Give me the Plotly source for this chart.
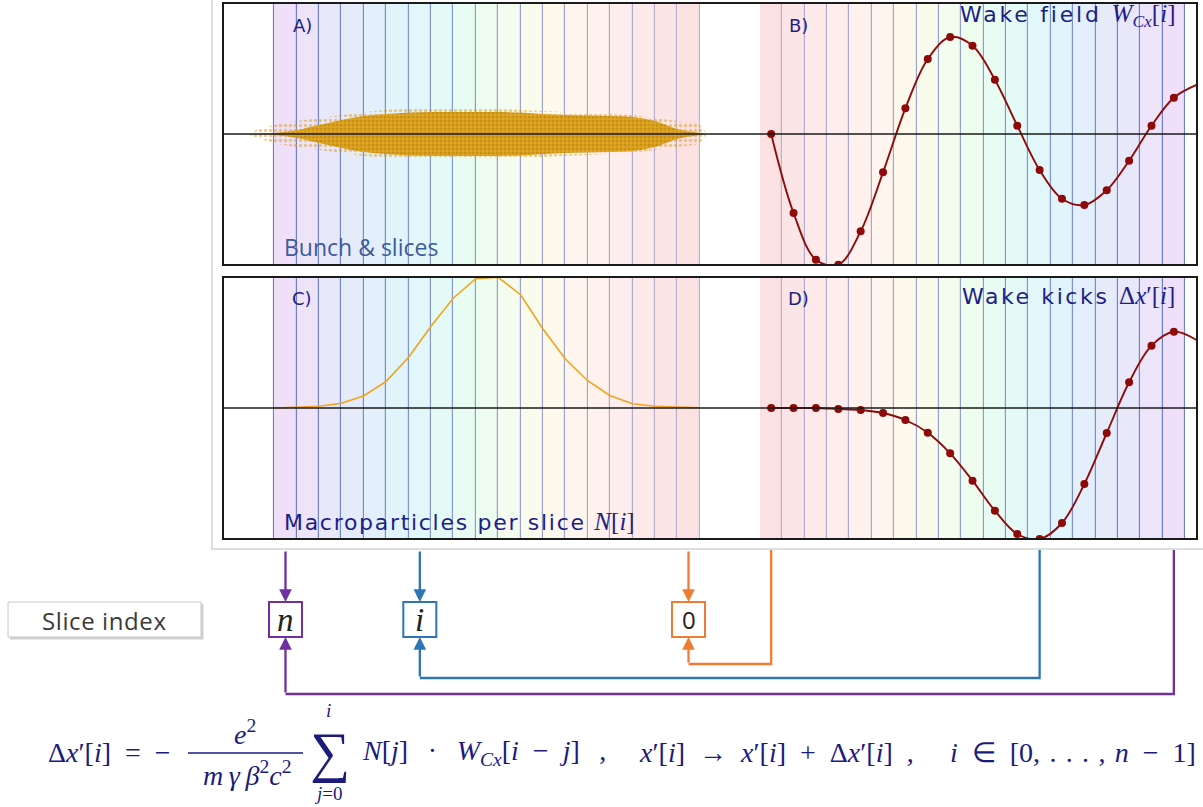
import plotly.graph_objects as go

W, H = 1203, 807

# ---------------- data ----------------
slice_index = list(range(19))            # slice 0 = bunch head
# pastel background colour of every slice (index 0 .. 18)
slice_colors = ["#FCE1E3", "#FCE5E6", "#FDE9EA", "#FDEDEC", "#FEF1EE", "#FEF5EE",
                "#FDF9ED", "#F9FBEC", "#F3FCEE", "#EEFCF0", "#E9FCF3", "#E4FAF6",
                "#E1F7F9", "#E1F3FB", "#E3EFFB", "#E6EBFA", "#E9E8FA", "#EDE4FA",
                "#F0DFF9"]
slice_line_colors = ["#BDB0CC", "#B9AECD", "#B5ADCE", "#B0ABCE", "#ABA9CF", "#A6A7D0",
                     "#A1A5D1", "#9CA3D2", "#97A1D3", "#929FD3", "#8D9CD3", "#889AD4",
                     "#8397D4", "#7E93D3", "#7A8FD2", "#768BD0", "#7387CE", "#7083CB",
                     "#6D7FC8"]

# bunch envelope (A), positions in slice units, half heights
bunch_k = [19.6, 18.5, 17.5, 16.5, 15.5, 14.5, 13.5, 12.5, 11.5, 10.5, 9.5, 8.5,
           7.5, 6.5, 5.5, 4.5, 3.5, 2.5, 1.5, 0.5, -0.5, -0.8]
bunch_core = [0, 1, 4, 9, 14, 18, 20, 21.5, 22, 22, 22, 22, 21.5, 20, 19, 18.5,
              18, 17, 13, 5, 1, 0]
bunch_halo = [0, 9, 13, 16, 19, 22, 24, 25, 25, 25, 25, 25, 24, 23, 22, 21,
              20, 19, 16, 13, 9, 0]

# macroparticles per slice (C), at slice boundaries
profile_k = [18.5, 17.5, 16.5, 15.5, 14.5, 13.5, 12.5, 11.5, 10.5, 9.5, 8.5,
             7.5, 6.5, 5.5, 4.5, 3.5, 2.5, 1.5, 0.5, -0.5]
profile_N = [0, 0.7, 1.7, 4.7, 12.3, 26.7, 50.7, 81.7, 110, 129.3, 130.7,
             113.3, 79, 49, 27.3, 12.3, 4.3, 1.7, 0.7, 0.3]

# wake field (B) at slice centres + continuation at the right edge
wake_W = [0, -79, -125.7, -130.7, -97.3, -38.3, 25.7, 75, 97, 88.3, 54.3, 8.3,
          -36, -64.7, -71, -56.3, -26.7, 8.3, 36.3]
wake_tail_k, wake_tail_W = 19.04, 49.3

# wake kicks (D)
kick_dx = [0, 0, 0, -1, -2, -5, -12, -24.7, -45.3, -72.7, -102.7, -126, -131,
           -115, -76, -25, 25.7, 62.3, 76.3]
kick_tail_k, kick_tail_dx = 19.04, 67.7

idx_labels = {"n": 18, "i": 12, "0": 0}

# ---------------- geometry helpers ----------------
A_RIGHT, A_SW = 699.7, 22.39
B_LEFT, B_SW = 760.0, 22.37
BOX_L, BOX_R = 223, 1197
ROW1 = (3, 265)
ROW2 = (277, 539)
YR = 131


def kA(px):
    return (A_RIGHT - px) / A_SW - 0.5


def pxA(k):
    return A_RIGHT - (k + 0.5) * A_SW


def pxB(k):
    return B_LEFT + (k + 0.5) * B_SW


def X(px):
    return px / W


def Y(py):
    return 1 - py / H


NAVY = "#1e1e86"
PURPLE, BLUE, ORANGE = "#7030A0", "#2E75B6", "#ED7D31"
DARKRED = "#8E0A0A"

fig = go.Figure()

panels = [("x", "y", "A"), ("x2", "y2", "B"), ("x3", "y3", "A"), ("x4", "y4", "B")]

# slice shading
for xa, ya, kind in panels:
    fig.add_trace(go.Bar(x=slice_index, y=[2 * YR] * 19, base=[-YR] * 19, width=1,
                         marker=dict(color=slice_colors, line=dict(width=0)),
                         xaxis=xa, yaxis=ya, showlegend=False, hoverinfo="skip"))

# bunch (A)
fig.add_trace(go.Scatter(x=bunch_k + bunch_k[::-1], y=bunch_halo + [-v for v in bunch_halo[::-1]],
                         fill="toself", mode="lines", line=dict(width=0, shape="spline"),
                         fillcolor="rgba(0,0,0,0)",
                         fillpattern=dict(shape=".", fgcolor="#D99A1E", bgcolor="rgba(0,0,0,0)",
                                          size=5, solidity=0.35),
                         xaxis="x", yaxis="y", showlegend=False, hoverinfo="skip"))
fig.add_trace(go.Scatter(x=bunch_k + bunch_k[::-1],
                         y=bunch_core + [-v for v in bunch_core[::-1]],
                         fill="toself", mode="lines", line=dict(width=0, shape="spline"),
                         fillcolor="#D9A01A",
                         fillpattern=dict(shape=".", fgcolor="#B07C08", bgcolor="#E0A522",
                                          size=4, solidity=0.45),
                         xaxis="x", yaxis="y", showlegend=False, hoverinfo="skip"))

# slice boundary lines (above bunch)
for xa, ya, kind in panels:
    fig.add_trace(go.Bar(x=slice_index, y=[2 * YR] * 19, base=[-YR] * 19, width=1,
                         marker=dict(color="rgba(0,0,0,0)",
                                     line=dict(width=1.1, color=slice_line_colors)),
                         xaxis=xa, yaxis=ya, showlegend=False, hoverinfo="skip"))

# profile (C)
fig.add_trace(go.Scatter(x=profile_k, y=profile_N, mode="lines",
                         line=dict(color="#F2A31B", width=1.6),
                         xaxis="x3", yaxis="y3", showlegend=False, hoverinfo="skip"))

# wake (B)
fig.add_trace(go.Scatter(x=slice_index + [wake_tail_k], y=wake_W + [wake_tail_W], mode="lines",
                         line=dict(color=DARKRED, width=1.9, shape="spline", smoothing=1.0),
                         xaxis="x2", yaxis="y2", showlegend=False, hoverinfo="skip"))
fig.add_trace(go.Scatter(x=slice_index, y=wake_W, mode="markers",
                         marker=dict(color=DARKRED, size=8),
                         xaxis="x2", yaxis="y2", showlegend=False, hoverinfo="skip"))
# kicks (D)
fig.add_trace(go.Scatter(x=slice_index + [kick_tail_k], y=kick_dx + [kick_tail_dx], mode="lines",
                         line=dict(color=DARKRED, width=1.9, shape="spline", smoothing=1.0),
                         xaxis="x4", yaxis="y4", showlegend=False, hoverinfo="skip"))
fig.add_trace(go.Scatter(x=slice_index, y=kick_dx, mode="markers",
                         marker=dict(color=DARKRED, size=8),
                         xaxis="x4", yaxis="y4", showlegend=False, hoverinfo="skip"))

ax_common = dict(visible=False, showgrid=False, zeroline=False, fixedrange=True)
rA = [kA(BOX_L), kA(B_LEFT)]
rB = [-0.5, (BOX_R - B_LEFT) / B_SW - 0.5]
d1 = [Y(ROW1[1]), Y(ROW1[0])]
d2 = [Y(ROW2[1]), Y(ROW2[0])]

shapes = []
# outer light frame
shapes.append(dict(type="rect", xref="paper", yref="paper", x0=X(212), x1=X(1206), y0=Y(549), y1=Y(-3),
                   line=dict(color="#D4D4D4", width=1.5), fillcolor="rgba(0,0,0,0)", layer="above"))
# zero lines
for ya in ["y", "y3"]:
    shapes.append(dict(type="line", xref="paper", yref=ya, x0=X(BOX_L), x1=X(BOX_R), y0=0, y1=0,
                       line=dict(color="#1a1a1a", width=1.4), layer="above"))
# panel boxes
for (t, b) in [ROW1, ROW2]:
    shapes.append(dict(type="rect", xref="paper", yref="paper", x0=X(BOX_L), x1=X(BOX_R),
                       y0=Y(b), y1=Y(t), line=dict(color="#1a1a1a", width=2), layer="above"))

# slice index box with shadow
shapes.append(dict(type="rect", xref="paper", yref="paper", x0=X(10), x1=X(203.5), y0=Y(639.5), y1=Y(604),
                   line=dict(width=0), fillcolor="rgba(120,120,120,0.35)"))
shapes.append(dict(type="rect", xref="paper", yref="paper", x0=X(8), x1=X(201), y0=Y(637), y1=Y(602),
                   line=dict(color="#C8C8C8", width=1), fillcolor="white"))

annotations = []
box_col = {"n": PURPLE, "i": BLUE, "0": ORANGE}
box_y0, box_y1 = 602, 637
for labk, k in idx_labels.items():
    cx = pxA(k)
    shapes.append(dict(type="rect", xref="paper", yref="paper", x0=X(cx - 16.5), x1=X(cx + 16.5),
                       y0=Y(box_y1), y1=Y(box_y0), line=dict(color=box_col[labk], width=2),
                       fillcolor="white"))
    if labk == "0":
        txt, fnt = "0", dict(family="Open Sans", size=24, color="#222222")
    else:
        txt, fnt = "<i>%s</i>" % labk, dict(family="Liberation Serif", size=33, color="#222222")
    annotations.append(dict(xref="paper", yref="paper", x=X(cx), y=Y(619.5), text=txt, font=fnt,
                            showarrow=False, xanchor="center", yanchor="middle"))
    # down arrow from panel A
    annotations.append(dict(xref="paper", yref="paper", x=X(cx), y=Y(box_y0), ax=0, ay=-(box_y0 - 550),
                            text="", showarrow=True, arrowhead=2, arrowsize=1.1, arrowwidth=2.3,
                            arrowcolor=box_col[labk], standoff=0))
    # return path from panel B
    hy = {"n": 694, "i": 678, "0": 664}[labk]
    bx = pxB(k)
    shapes.append(dict(type="path", xref="paper", yref="paper",
                       path="M %f %f L %f %f L %f %f" % (X(bx), Y(550), X(bx), Y(hy), X(cx), Y(hy)),
                       line=dict(color=box_col[labk], width=2.3)))
    annotations.append(dict(xref="paper", yref="paper", x=X(cx), y=Y(box_y1), ax=0, ay=(hy - box_y1),
                            text="", showarrow=True, arrowhead=2, arrowsize=1.1, arrowwidth=2.3,
                            arrowcolor=box_col[labk], standoff=0))

SANS = "DejaVu Sans"
SERIF = "Liberation Serif"


def lab(px, py, text, size=17, anchor="center", color=NAVY, family=SANS):
    annotations.append(dict(xref="paper", yref="paper", x=X(px), y=Y(py), text=text,
                            font=dict(family=family, size=size, color=color),
                            showarrow=False, xanchor=anchor, yanchor="middle"))


MATH = '<span style="font-family:Liberation Serif;font-size:25px">'
lab(104.5, 620, '<span style="letter-spacing:0.6px">Slice index</span>', size=24,
    color="#3A3A3A", family="Open Sans")
lab(302, 25, "A)", size=18)
lab(798, 25, "B)", size=18)
lab(302, 298, "C)", size=18)
lab(798, 298, "D)", size=18)
lab(282, 247, "Bunch &amp; slices", size=23, anchor="left", color="#3D5C9C", family="Open Sans")
lab(282, 521, '<span style="letter-spacing:1.7px">Macroparticles per slice </span>'
              + MATH + '<i>N</i>[<i>i</i>]</span>', size=22, anchor="left")
lab(1177, 16, '<span style="letter-spacing:2.8px">Wake field </span>'
              + MATH + '<i>W</i><sub><i>Cx</i></sub>[<i>i</i>]</span>', size=22, anchor="right")
lab(1177, 296, '<span style="letter-spacing:2.6px">Wake kicks </span>'
               + MATH + 'Δ<i>x</i>′[<i>i</i>]</span>', size=22, anchor="right")

# formula
F = "#1b1b7e"
EN = "\u2002"
TH = "\u2009"
T3 = "\u2004"
lab(46, 752, "Δ<i>x</i>′[<i>i</i>]" + EN + "=" + EN + "−", size=28, anchor="left", color=F, family=SERIF)
lab(245, 732, "<i>e</i><sup>2</sup>", size=28, color=F, family=SERIF)
lab(247, 773, "<i>m" + TH + "γ" + TH + "β</i><sup>2</sup><i>c</i><sup>2</sup>", size=28, color=F, family=SERIF)
shapes.append(dict(type="line", xref="paper", yref="paper", x0=X(188), x1=X(303), y0=Y(753), y1=Y(753),
                   line=dict(color=F, width=1.3)))
lab(330, 752, "∑", size=56, color=F, family=SERIF)
lab(328, 710, "<i>i</i>", size=19, color=F, family=SERIF)
lab(328, 793, "<i>j</i>=0", size=19, color=F, family=SERIF)
lab(360, 752, "<i>N</i>[<i>j</i>]" + EN + TH + "·" + EN + TH + "<i>W</i><sub><i>Cx</i></sub>[<i>i</i>" + EN + "−"
    + EN + "<i>j</i>]" + EN + TH + ",", size=28, anchor="left", color=F, family=SERIF)
lab(637, 752, "<i>x</i>′[<i>i</i>]" + EN + "→" + EN + "<i>x</i>′[<i>i</i>]" + EN + "+" + EN
    + "Δ<i>x</i>′[<i>i</i>]" + EN + ",", size=28, anchor="left", color=F, family=SERIF)
lab(948, 752, "<i>i</i>" + EN + "∈" + EN + "[0," + T3 + "." + T3 + "." + T3 + "." + T3 + "," + T3
    + "<i>n</i>" + EN + "−" + EN + "1]", size=28, anchor="left", color=F, family=SERIF)

fig.update_layout(
    width=W, height=H, margin=dict(l=0, r=0, t=0, b=0),
    paper_bgcolor="white", plot_bgcolor="rgba(0,0,0,0)",
    barmode="overlay", bargap=0, showlegend=False,
    xaxis=dict(domain=[X(BOX_L), X(B_LEFT)], range=rA, anchor="y", **ax_common),
    yaxis=dict(domain=d1, range=[-YR, YR], anchor="x", **ax_common),
    xaxis2=dict(domain=[X(B_LEFT), X(BOX_R)], range=rB, anchor="y2", **ax_common),
    yaxis2=dict(domain=d1, range=[-YR, YR], anchor="x2", **ax_common),
    xaxis3=dict(domain=[X(BOX_L), X(B_LEFT)], range=rA, anchor="y3", **ax_common),
    yaxis3=dict(domain=d2, range=[-YR, YR], anchor="x3", **ax_common),
    xaxis4=dict(domain=[X(B_LEFT), X(BOX_R)], range=rB, anchor="y4", **ax_common),
    yaxis4=dict(domain=d2, range=[-YR, YR], anchor="x4", **ax_common),
    shapes=shapes, annotations=annotations,
)

fig.write_html("out.html")
